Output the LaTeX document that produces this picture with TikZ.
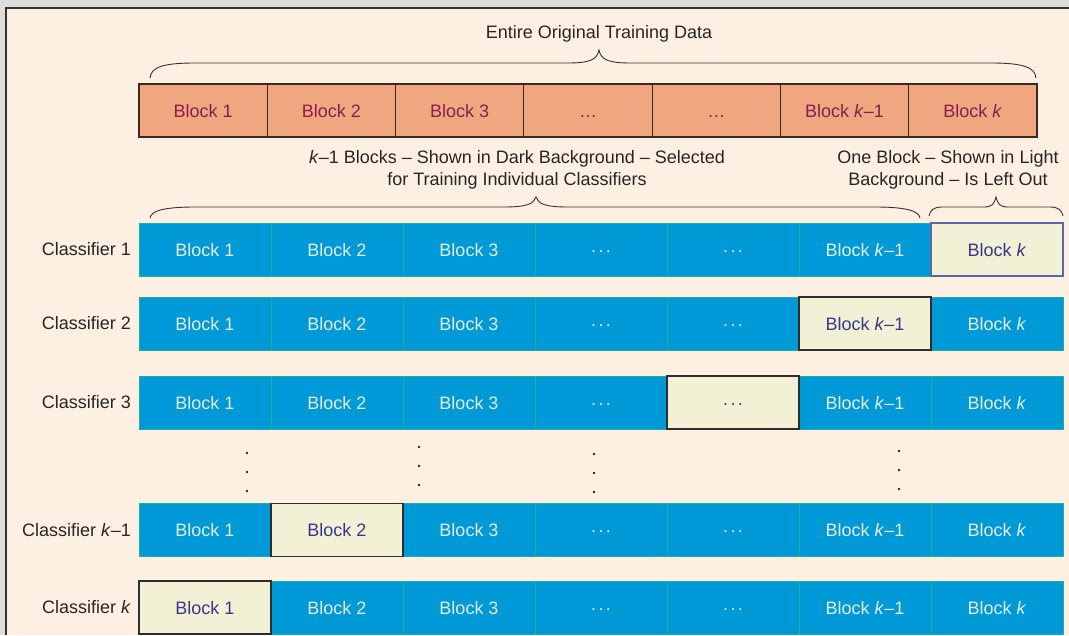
\documentclass[tikz,border=0pt]{standalone}
\usepackage{fontspec}
\setmainfont{Liberation Sans}
\definecolor{outerc}{HTML}{DEDDD8}
\definecolor{panelc}{HTML}{FDEFE2}
\definecolor{framec}{HTML}{333333}
\definecolor{ofill}{HTML}{F0A67F}
\definecolor{odraw}{HTML}{3A2A22}
\definecolor{otext}{HTML}{8A1E50}
\definecolor{bfill}{HTML}{0099D7}
\definecolor{bline}{HTML}{1EAF9A}
\definecolor{btext}{HTML}{E4EDD8}
\definecolor{lfill}{HTML}{F3F1D5}
\definecolor{ldraw}{HTML}{2E2E2E}
\definecolor{ldrawblue}{HTML}{5A66A8}
\definecolor{ltext}{HTML}{38388A}
\definecolor{labtext}{HTML}{262626}
\definecolor{bracec}{HTML}{333333}
\newcommand\bdots{·\kern1.3pt·\kern1.3pt·}
\newcommand\celltext[1]{\ifcase#1\or Block 1\or Block 2\or Block 3\or \bdots\or \bdots\or Block \textit{k}--1\or Block \textit{k}\fi}
\newcommand\topcelltext[1]{\ifcase#1\or Block 1\or Block 2\or Block 3\or …\or …\or Block \textit{k}--1\or Block \textit{k}\fi}
% x1, xtip, x2, yline, yend, ytip, end shoulder, tip shoulder
\newcommand\mybrace[8]{%
  \draw[bracestyle] (#1,#5) .. controls (#1+1,#4+4) and (#1+#7*0.3,#4) .. (#1+#7,#4)
    -- (#2-#8,#4) .. controls (#2-#8*0.3,#4) and (#2-2,#4-3) .. (#2,#6)
    .. controls (#2+2,#4-3) and (#2+#8*0.3,#4) .. (#2+#8,#4)
    -- (#3-#7,#4) .. controls (#3-#7*0.3,#4) and (#3-1,#4+4) .. (#3,#5);}
\begin{document}
\begin{tikzpicture}[x=1pt,y=-1pt,
  every node/.style={font=\fontsize{18}{22}\selectfont, inner sep=0pt},
  cellbase/.style={text height=16pt, text depth=3pt, minimum height=53pt},
  ocell/.style={cellbase, draw=odraw, line width=1.1pt, fill=ofill, text=otext, minimum width=128.3pt},
  bcell/.style={cellbase, draw=bline, line width=0.8pt, fill=bfill, text=btext, minimum width=132pt},
  lcell/.style={cellbase, line width=1.1pt, fill=lfill, text=ltext, minimum width=132pt},
  lab/.style={anchor=east, text=labtext},
  caption/.style={text=labtext, align=center},
  bracestyle/.style={draw=bracec, line width=0.9pt},
  vdot/.style={fill=labtext}]
\useasboundingbox (0,0) rectangle (1069,635);
% background and panel
\fill[outerc] (0,0) rectangle (1069,635);
\fill[panelc] (6,8) rectangle (1069,635);
\draw[framec, line width=1.4pt] (6,635) -- (6,8) -- (1069,8);
% top caption and brace
\node[caption] (topcap) at (599,34) {Entire Original Training Data};
\mybrace{150}{599}{1036}{63}{78}{50}{45}{32}
% original data row
\foreach \c in {1,...,7}{
  \pgfmathsetmacro\xx{139+128.2857*(\c-0.5)}
  \node[ocell] (o\c) at (\xx,110.5) {\topcelltext{\c}};
}
% captions
\node[caption] (cap1) at (517,170) {\textit{k}--1 Blocks -- Shown in Dark Background -- Selected\\for Training Individual Classifiers};
\node[caption] (cap2) at (948,170) {One Block -- Shown in Light\\Background -- Is Left Out};
\mybrace{150}{536}{920}{207}{218}{197}{45}{32}
\mybrace{929}{996}{1063}{207}{216}{197}{13}{12}
% classifier rows
\foreach \r/\y/\L/\name in {1/249.5/7/{Classifier 1},2/323.5/6/{Classifier 2},3/402.5/5/{Classifier 3},4/530/2/{Classifier \textit{k}--1},5/607.5/1/{Classifier \textit{k}}}{
  \node[lab] (lab\r) at (131,\y) {\name};
  \foreach \c in {1,...,7}{
    \pgfmathsetmacro\xx{139+132*(\c-0.5)}
    \ifnum\c=\L\else
      \node[bcell] (r\r c\c) at (\xx,\y) {\celltext{\c}};
    \fi
  }
  \pgfmathsetmacro\xl{139+132*(\L-0.5)}
  \ifnum\r=1 \def\lb{ldrawblue}\else\def\lb{ldraw}\fi
  \node[lcell, draw=\lb] (r\r c\L) at (\xl,\y) {\celltext{\L}};
}
% vertical dots
\foreach \xd/\yd in {247/453,419/447,594/454,899/451}{
  \foreach \k in {0,1,2}{
    \fill[vdot] (\xd,\yd+19*\k) circle (1.3pt);
  }
}
\end{tikzpicture}
\end{document}
